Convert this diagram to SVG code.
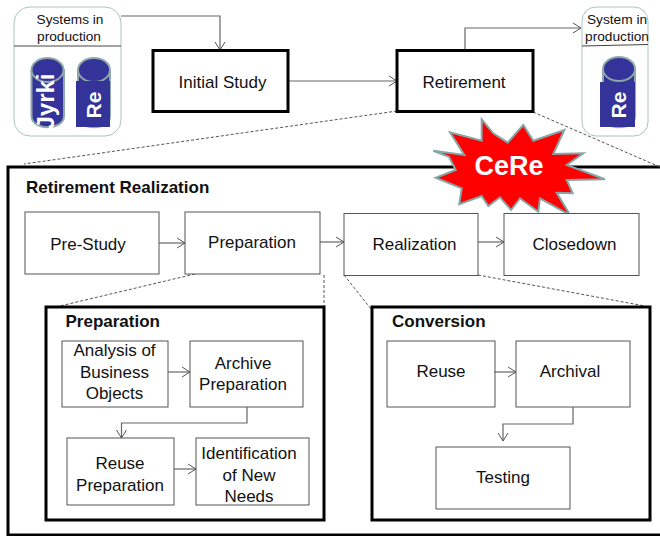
<svg xmlns="http://www.w3.org/2000/svg" width="660" height="536" viewBox="0 0 660 536">
<defs>
<marker id="arr" markerUnits="userSpaceOnUse" markerWidth="10" markerHeight="12" refX="9" refY="6" orient="auto"><path d="M1 1 L9 6 L1 11" fill="none" stroke="#555" stroke-width="1"/></marker>
</defs>
<style>
text{font-family:"Liberation Sans",Arial,sans-serif;font-size:17px;fill:#111;text-anchor:middle}
.b{font-weight:bold;text-anchor:start}
.thick{fill:#fff;stroke:#000;stroke-width:3}
.box{fill:#fff;stroke:#555;stroke-width:1}
.sys{fill:#fff;stroke:#a9c4c4;stroke-width:1}
.div{stroke:#444;stroke-width:1;fill:none}
.dash{stroke:#555;stroke-width:1;stroke-dasharray:3 2;fill:none}
.conn{stroke:#666;stroke-width:1.2;fill:none;marker-end:url(#arr)}
.cyl{fill:#333399;stroke:#8fa8a8;stroke-width:2}
.lid{fill:#333399;stroke:#8fa8a8;stroke-width:2}
.rot{fill:#fff;font-weight:bold;font-size:21px}
.small{font-size:13.700px}
</style>
<rect width="660" height="536" fill="#fff"/>
<g id="realization-frame"><rect class="thick" x="8" y="167" width="656" height="368"/><text class="b" x="26" y="193">Retirement Realization</text></g>
<g id="connectors">
<path class="dash" d="M397 111 L24 164"/>
<path class="dash" d="M533 112 L660 167"/>
<path class="dash" d="M195 274 L60 306"/>
<path class="dash" d="M324 275 L324 306"/>
<path class="dash" d="M344 275 L371 309"/>
<path class="dash" d="M478 275 L645 306"/>
<path class="conn" d="M121 16 H220 V50"/>
<path class="conn" d="M288 81 H397"/>
<path class="conn" d="M465 50 V28 H581"/>
<path class="conn" d="M159 243 H185"/>
<path class="conn" d="M320 242 H344"/>
<path class="conn" d="M478 242 H504"/>
</g>
<g id="systems-in-production">
<rect class="sys" x="14" y="7" width="107" height="129" rx="16"/>
<path class="div" d="M14 46 H121"/>
<text class="small" x="70" y="23.500">Systems in</text>
<text class="small" x="69" y="40.500">production</text>
<path class="cyl" d="M31.500 70 V116 C31.500 131 64 131 64 116 V70 Z"/>
<ellipse class="lid" cx="47.500" cy="70" rx="16" ry="12"/>
<path class="cyl" d="M78 70 V116 C78 131 110 131 110 116 V70 Z"/>
<ellipse class="lid" cx="94" cy="70" rx="16" ry="12"/>
<rect x="76" y="81" width="34" height="46" fill="#333399"/>
<text class="rot" style="font-size:24px" transform="translate(54 101.500) rotate(-90)">Jyrki</text>
<text class="rot" transform="translate(101 105) rotate(-90)">Re</text>
</g>
<g id="initial-study"><rect class="thick" x="153" y="50.500" width="135" height="61"/><text x="222.500" y="88">Initial Study</text></g>
<g id="retirement"><rect class="thick" x="397" y="50.500" width="136" height="61"/><text x="464" y="88">Retirement</text></g>
<g id="system-in-production">
<rect class="sys" x="582" y="7" width="66" height="129" rx="14"/>
<path class="div" d="M582 46 L648 44.500"/>
<text class="small" x="617" y="23.500">System in</text>
<text class="small" x="617" y="40.500">production</text>
<path class="cyl" d="M603 70 V116 C603 131 635 131 635 116 V70 Z"/>
<ellipse class="lid" cx="619" cy="69" rx="16" ry="12"/>
<rect x="600" y="82" width="35" height="45" fill="#333399"/>
<text class="rot" transform="translate(626 105) rotate(-90)">Re</text>
</g>
<g id="cere">
<polygon points="481.700,119.300 493.300,133.300 507.700,142.700 523.300,125 533.300,140.700 564.300,130 553.300,154 583.300,153.300 566.700,165 605,179.300 566.700,180 572.700,193.300 556.700,192.700 570,215 540,198.300 538.300,211.700 520,198.300 511,210 500,197.300 488.300,206 481.700,196 459.300,204.300 461.700,188.300 435.700,177.700 455.700,170 449,156.700 433.300,150.700 464.300,155 450,132.300 481.700,140.700" fill="#ff0000" stroke="#86a5a5" stroke-width="2"/>
<text x="509" y="175" style="fill:#fff;font-weight:bold;font-size:27px">CeRe</text>
</g>
<g id="pre-study"><rect class="box" x="25" y="212" width="134" height="62"/><text x="88" y="250">Pre-Study</text></g>
<g id="preparation"><rect class="box" x="185" y="212" width="135" height="62"/><text x="252" y="248">Preparation</text></g>
<g id="realization"><rect class="box" x="344" y="213.500" width="134" height="62"/><text x="414.500" y="250">Realization</text></g>
<g id="closedown"><rect class="box" x="504" y="213.500" width="135" height="62"/><text x="574.500" y="250">Closedown</text></g>
<g id="preparation-frame">
<rect class="thick" x="46" y="307" width="278" height="213"/>
<text class="b" x="65.500" y="327">Preparation</text>
</g>
<g id="analysis"><rect class="box" x="62" y="341" width="106" height="66"/><text x="114.500" y="356">Analysis of</text><text x="114.500" y="378">Business</text><text x="114.500" y="399">Objects</text></g>
<g id="archive-preparation"><rect class="box" x="190" y="341" width="113" height="66"/><text x="243" y="369">Archive</text><text x="243" y="390">Preparation</text></g>
<g id="reuse-preparation"><rect class="box" x="67" y="438" width="107" height="67"/><text x="120" y="469">Reuse</text><text x="120" y="491">Preparation</text></g>
<g id="identification"><rect class="box" x="196" y="438" width="113" height="67"/><text x="249" y="459">Identification</text><text x="249" y="481">of New</text><text x="249" y="502">Needs</text></g>
<g id="conversion-frame">
<rect class="thick" x="372" y="307" width="278" height="213"/>
<text class="b" x="392" y="327">Conversion</text>
</g>
<g id="reuse"><rect class="box" x="387" y="341" width="108" height="66"/><text x="441" y="377">Reuse</text></g>
<g id="archival"><rect class="box" x="516" y="341" width="114" height="66"/><text x="570" y="377">Archival</text></g>
<g id="testing"><rect class="box" x="436" y="447" width="134" height="62"/><text x="503" y="483">Testing</text></g>
<g id="inner-connectors">
<path class="conn" d="M168 372 H190"/>
<path class="conn" d="M247 407 V423 H121.500 V438"/>
<path class="conn" d="M174 469 H196"/>
<path class="conn" d="M494 372 H516"/>
<path class="conn" d="M573 407 V424 H503 V441"/>
</g>
</svg>
